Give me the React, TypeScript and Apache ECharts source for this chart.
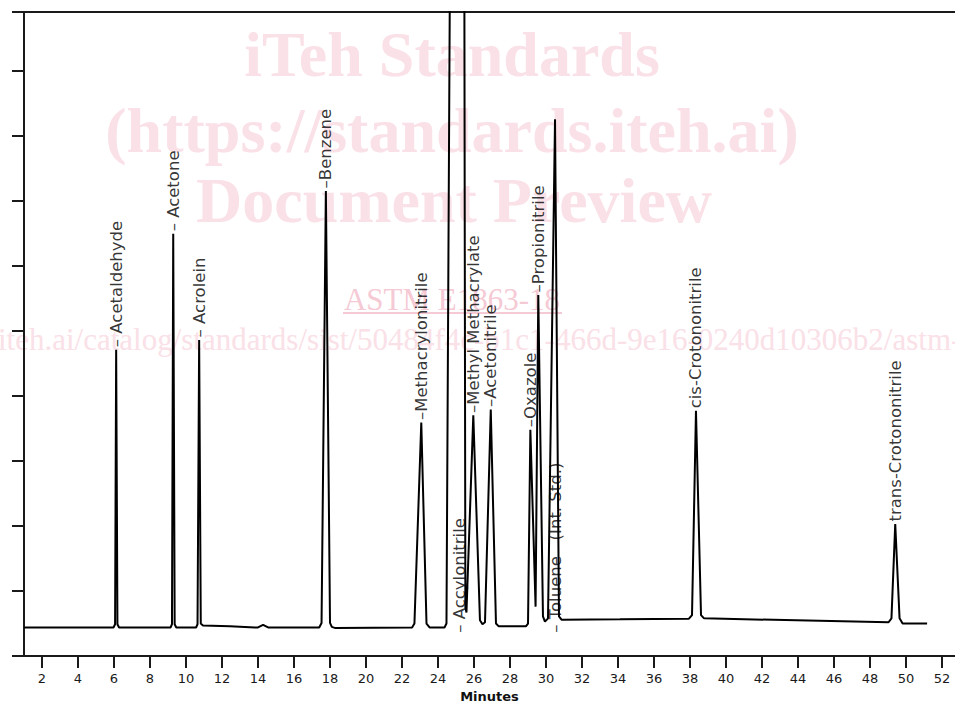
import React, { useEffect, useRef } from 'react';
import * as echarts from 'echarts';

// Chromatogram trace (retention time in minutes, detector signal in axis units)
const traceTime = [
  1.0, 5.97, 6.06, 6.12, 6.19, 6.28,
  9.14, 9.22, 9.29, 9.37, 9.46,
  10.56, 10.64, 10.73, 10.82, 10.94, 12.44, 13.83,
  14.0, 14.28, 14.56,
  17.4, 17.53, 17.77, 18.0, 18.1, 18.3,
  22.56, 22.69, 23.07, 23.36, 23.53,
  24.36, 24.47, 24.7, 25.0, 25.45, 25.52, 25.58,
  25.96, 26.33, 26.47, 26.61,
  26.93, 27.22, 27.36, 28.89,
  29.0, 29.13, 29.42,
  29.57, 29.83, 29.94, 30.11,
  30.5, 30.72, 30.86, 34.11,
  37.94, 38.11, 38.33, 38.61, 38.78,
  49.03, 49.19, 49.4, 49.64, 49.81, 51.17,
];
const traceSignal = [
  0.44, 0.44, 0.49, 4.71, 0.49, 0.44,
  0.44, 0.49, 6.49, 0.49, 0.44,
  0.44, 0.49, 4.86, 0.5, 0.47, 0.46, 0.44,
  0.44, 0.48, 0.44,
  0.44, 0.51, 7.15, 0.51, 0.45, 0.43,
  0.44, 0.5, 3.59, 0.5, 0.44,
  0.44, 0.5, 12.5, 14.0, 12.5, 0.75, 0.67,
  3.7, 0.55, 0.49, 0.52,
  3.79, 0.5, 0.46, 0.46,
  0.5, 3.48, 0.76,
  5.55, 0.61, 0.53, 0.58,
  8.25, 0.61, 0.56, 0.565,
  0.575, 0.63, 3.77, 0.63, 0.58,
  0.52, 0.58, 2.03, 0.58, 0.5, 0.5,
];

// Peak annotations
const peakNames = [
  '– Acetaldehyde',
  '– Acetone',
  '– Acrolein',
  '–Benzene',
  '–Methacrylonitrile',
  '– Accylonitrile',
  '–Methyl Methacrylate',
  '–Acetonitrile',
  '–Oxazole',
  '–Propionitrile',
  '– Toluene   (Int. Std.)',
  'cis-Crotononitrile',
  'trans-Crotononitrile',
];
const peakTimes = [6.12, 9.29, 10.73, 17.77, 23.07, 25.17, 25.96, 26.93, 29.13, 29.57, 30.52, 38.33, 49.4];
const peakLabelHeights = [4.71, 6.49, 4.86, 7.15, 3.59, 0.32, 3.7, 3.79, 3.48, 5.55, 0.32, 3.77, 2.03];

const xTickValues = [2, 4, 6, 8, 10, 12, 14, 16, 18, 20, 22, 24, 26, 28, 30, 32, 34, 36, 38, 40, 42, 44, 46, 48, 50, 52];
const yTickValues = [0, 1, 2, 3, 4, 5, 6, 7, 8, 9, 9.9];

const watermarkTitle = ['iTeh Standards', '(https://standards.iteh.ai)', 'Document Preview'];
const watermarkStandard = 'ASTM E1863-18';
const watermarkUrl = 'https://standards.iteh.ai/catalog/standards/sist/50484f4c-b1c1-466d-9e16-0240d10306b2/astm-e1863-18';

const FONT = 'DejaVu Sans';
const AXIS = '#1a1a1a';

export default function App() {
  const ref = useRef<HTMLDivElement>(null);

  useEffect(() => {
    document.body.style.margin = '0';
    if (!ref.current) return;
    const chart = echarts.init(ref.current, null, { renderer: 'svg' });

    const trace = traceTime.map((t, i) => [t, traceSignal[i]]);
    const labels = peakNames.map((n, i) => ({ name: n, value: [peakTimes[i], peakLabelHeights[i]] }));

    const wmFill = '#fae0e7';
    const wmFill2 = '#f5cad5';

    chart.setOption({
      animation: false,
      backgroundColor: '#ffffff',
      grid: { left: 24, right: 0, top: 12, bottom: 48, containLabel: false },
      xAxis: [
        {
          type: 'value',
          position: 'bottom',
          min: 1,
          max: 52.72,
          axisLine: { show: true, lineStyle: { color: AXIS, width: 2 } },
          axisTick: { show: true, length: 12, inside: false, customValues: xTickValues, lineStyle: { color: AXIS, width: 2 } },
          axisLabel: { show: true, customValues: xTickValues, margin: 16, fontSize: 13, fontFamily: FONT, color: '#1a1a1a' },
          splitLine: { show: false },
          name: 'Minutes',
          nameLocation: 'middle',
          nameGap: 33,
          nameTextStyle: { fontFamily: FONT, fontSize: 13, fontWeight: 'bold', color: '#111' },
        },
        {
          type: 'value',
          position: 'top',
          min: 1,
          max: 52.72,
          axisLine: { show: true, lineStyle: { color: AXIS, width: 2 } },
          axisTick: { show: false },
          axisLabel: { show: false },
          splitLine: { show: false },
        },
      ],
      yAxis: {
        type: 'value',
        min: 0,
        max: 9.9,
        axisLine: { show: true, lineStyle: { color: AXIS, width: 2 } },
        axisTick: { show: true, length: 12, inside: false, customValues: yTickValues, lineStyle: { color: AXIS, width: 2 } },
        axisLabel: { show: false },
        splitLine: { show: false },
      },
      graphic: [
        {
          type: 'text', x: 452, y: 54, silent: true, z: 0,
          style: { text: watermarkTitle[0], fontSize: 64, fontWeight: 'bold', fontFamily: 'Liberation Serif', fill: wmFill, align: 'center', verticalAlign: 'middle' },
        },
        {
          type: 'text', x: 452, y: 130, silent: true, z: 0,
          style: { text: watermarkTitle[1], fontSize: 64, fontWeight: 'bold', fontFamily: 'Liberation Serif', fill: wmFill, align: 'center', verticalAlign: 'middle' },
        },
        {
          type: 'text', x: 454, y: 200, silent: true, z: 0,
          style: { text: watermarkTitle[2], fontSize: 64, fontWeight: 'bold', fontFamily: 'Liberation Serif', fill: wmFill, align: 'center', verticalAlign: 'middle' },
        },
        {
          type: 'text', x: 452, y: 299, silent: true, z: 0,
          style: { text: watermarkStandard, fontSize: 31, fontFamily: 'Liberation Serif', fill: wmFill2, align: 'center', verticalAlign: 'middle' },
        },
        {
          type: 'line', silent: true, z: 0,
          shape: { x1: 343, y1: 313, x2: 562, y2: 313 },
          style: { stroke: wmFill2, lineWidth: 2 },
        },
        {
          type: 'text', x: -213, y: 339, silent: true, z: 0,
          style: { text: watermarkUrl, fontSize: 31, fontFamily: 'Liberation Serif', fill: wmFill, align: 'left', verticalAlign: 'middle' },
        },
      ],
      series: [
        {
          type: 'line',
          data: trace,
          showSymbol: false,
          symbol: 'none',
          clip: true,
          smooth: false,
          z: 3,
          silent: true,
          lineStyle: { color: '#000', width: 2 },
        },
        {
          type: 'scatter',
          data: labels,
          symbolSize: 1,
          silent: true,
          z: 4,
          itemStyle: { color: 'rgba(0,0,0,0)' },
          label: {
            show: true,
            formatter: (p: any) => p.name,
            position: 'top',
            distance: 2,
            rotate: 90,
            align: 'left',
            verticalAlign: 'middle',
            fontFamily: FONT,
            fontSize: 16.5,
            color: '#000',
          },
        },
      ],
    });

    return () => chart.dispose();
  }, []);

  return <div ref={ref} style={{ width: 955, height: 708 }} />;
}
